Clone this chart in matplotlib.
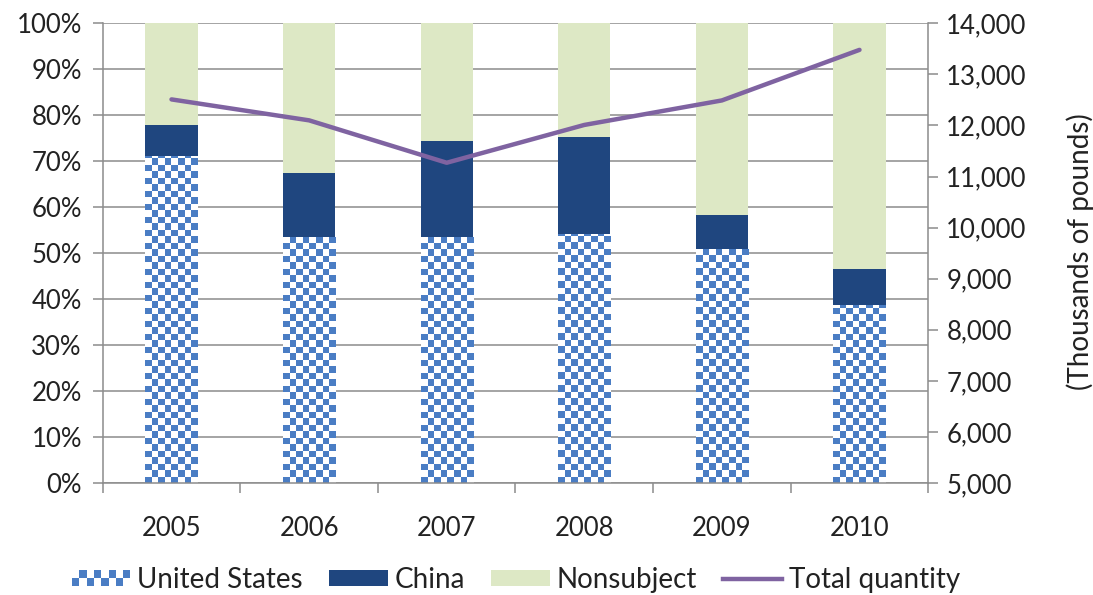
import numpy as np
import matplotlib
matplotlib.use("Agg")
from matplotlib import pyplot as plt
from matplotlib.colors import ListedColormap
from matplotlib.patches import Patch, Rectangle
from matplotlib.lines import Line2D
from matplotlib.legend_handler import HandlerBase
from matplotlib.ticker import FuncFormatter, MultipleLocator, FixedLocator

# data (shares in %, quantity in 1,000 lb)
years = ["2005", "2006", "2007", "2008", "2009", "2010"]
us_share = [71.1, 53.5, 53.5, 54.1, 51.0, 38.7]
china_share = [6.7, 14.0, 20.8, 21.1, 7.3, 7.8]
nonsubject_share = [100 - u - c for u, c in zip(us_share, china_share)]
total_quantity = [12510, 12100, 11270, 12010, 12490, 13480]

BLUE = "#4a7dc4"
NAVY = "#1f467f"
GREEN = "#dde8c5"
PURPLE = "#7f63a1"
GRID = "#8c8c8c"
TXT = "#222222"

plt.rcParams["font.family"] = ["Lato", "DejaVu Sans"]
plt.rcParams["font.size"] = 18.5
plt.rcParams["text.color"] = TXT


class CheckerHandler(HandlerBase):
    # legend key drawn as a small checkerboard
    def create_artists(self, legend, orig_handle, xdescent, ydescent, width, height, fontsize, trans):
        arts = []
        nx, ny = 8, 2
        cw, ch = width / nx, height / ny
        for i in range(nx):
            for j in range(ny):
                c = BLUE if (i + j) % 2 == 0 else "white"
                arts.append(Rectangle((-xdescent + i * cw, -ydescent + j * ch), cw, ch,
                                      facecolor=c, edgecolor="none", transform=trans))
        return arts


fig = plt.figure(figsize=(10.93, 5.95), dpi=100)
ax = fig.add_axes([102.7 / 1093, 1 - 483 / 595, (928.3 - 102.7) / 1093, (483 - 23.3) / 595])

x = np.arange(len(years))
w = 0.38
bars_us = ax.bar(x, us_share, w, color="white", edgecolor="none", zorder=2)
ax.bar(x, china_share, w, bottom=us_share, color=NAVY, edgecolor="none", zorder=2)
bottom2 = [u + c for u, c in zip(us_share, china_share)]
ax.bar(x, nonsubject_share, w, bottom=bottom2, color=GREEN, edgecolor="none", zorder=2)

# checkerboard fill of the US bars
cell_x = 6.5 / 137.6
cell_y = 6.5 * 100 / 460
cmap = ListedColormap(["white", BLUE])
for rect in bars_us:
    x0, y0 = rect.get_x(), rect.get_y()
    nx = int(np.ceil(rect.get_width() / cell_x))
    ny = int(np.ceil(rect.get_height() / cell_y))
    ii, jj = np.indices((ny, nx))
    board = ((ii + jj) % 2 == 0).astype(int)
    im = ax.imshow(board, cmap=cmap, vmin=0, vmax=1, origin="lower", interpolation="nearest",
                   extent=(x0, x0 + nx * cell_x, y0, y0 + ny * cell_y), aspect="auto", zorder=2.5)
    im.set_clip_path(rect)

ax.set_xlim(-0.5, len(years) - 0.5)
ax.set_ylim(0, 100)
ax.yaxis.set_major_locator(MultipleLocator(10))
ax.yaxis.set_major_formatter(FuncFormatter(lambda v, p: f"{v:.0f}%"))
ax.grid(axis="y", color=GRID, linewidth=1.1, zorder=0)
ax.set_axisbelow(True)
ax.set_xticks(x)
ax.set_xticklabels(years)
ax.xaxis.set_minor_locator(FixedLocator(np.arange(-0.5, len(years), 1.0)))
ax.tick_params(axis="x", which="major", length=0, pad=24, colors=TXT)
ax.tick_params(axis="x", which="minor", length=7, width=1.1, color=GRID, direction="out")
ax.tick_params(axis="y", length=7, width=1.1, color=GRID, pad=8, labelcolor=TXT)
for s in ["top", "right"]:
    ax.spines[s].set_visible(False)
for s in ["left", "bottom"]:
    ax.spines[s].set_color(GRID)
    ax.spines[s].set_linewidth(1.1)

ax2 = ax.twinx()
ax2.plot(x, total_quantity, color=PURPLE, linewidth=3.2, solid_capstyle="round", zorder=3)
ax2.set_ylim(5000, 14000)
ax2.yaxis.set_major_locator(MultipleLocator(1000))
ax2.yaxis.set_major_formatter(FuncFormatter(lambda v, p: f"{v:,.0f}"))
ax2.tick_params(axis="y", length=7, width=1.1, color=GRID, pad=6, labelcolor=TXT)
for s in ["top", "left", "bottom"]:
    ax2.spines[s].set_visible(False)
ax2.spines["right"].set_color(GRID)
ax2.spines["right"].set_linewidth(1.1)

fig.text(1080 / 1093, 1 - 252 / 595, "(Thousands of pounds)", rotation=90,
         ha="center", va="center", fontsize=20)

us_h = Patch(facecolor=BLUE)
handles = [us_h, Patch(facecolor=NAVY), Patch(facecolor=GREEN),
           Line2D([], [], color=PURPLE, linewidth=3.2)]
labels = ["United States", "China", "Nonsubject", "Total quantity"]
fig.legend(handles, labels, loc="center", bbox_to_anchor=(516 / 1093, 15 / 595), ncol=4,
           frameon=False, handler_map={us_h: CheckerHandler()}, fontsize=20, handlelength=2.1,
           handleheight=0.5, handletextpad=0.25, columnspacing=0.95)

fig.savefig("out.png", dpi=100)
